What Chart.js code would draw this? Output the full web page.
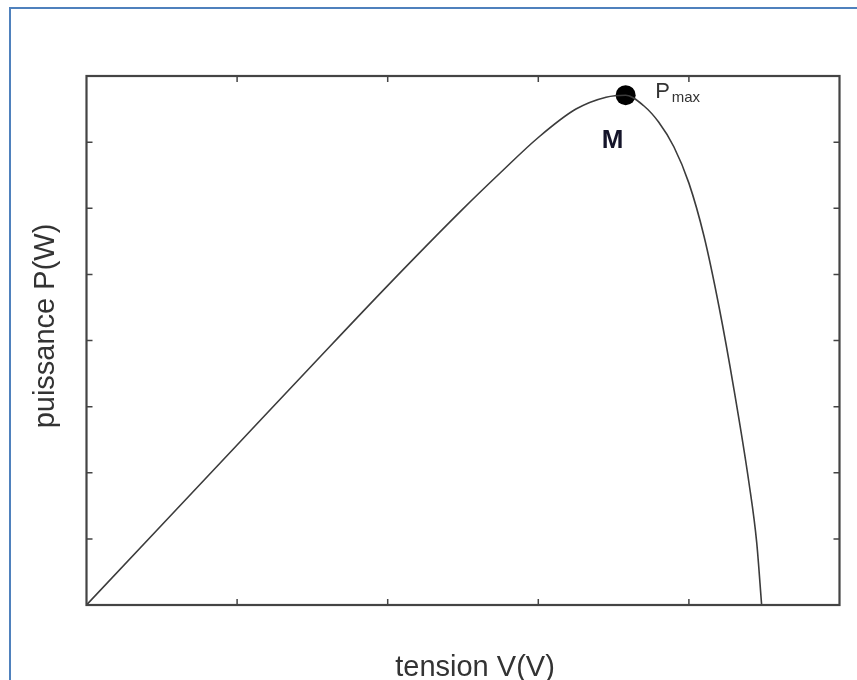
<!DOCTYPE html>
<html>
<head>
<meta charset="utf-8">
<script src="https://cdn.jsdelivr.net/npm/chart.js@4.4.1/dist/chart.umd.min.js"></script>
<style>
html, body { margin: 0; padding: 0; background: #fff; overflow: hidden; }
#wrap { position: relative; width: 857px; height: 680px; }
#cadre { position: absolute; left: 9px; top: 7px; width: 900px; height: 720px; border: 2px solid #4f81bd; box-sizing: border-box; }
#pvChart { position: absolute; left: 0; top: 0; }
</style>
</head>
<body>
<div id="wrap">
    <div id="cadre"></div>
    <canvas id="pvChart" width="857" height="680"></canvas>
</div>
<script>
// courbe P(V) d'un panneau
var tension   = [0, 0.5, 1.0, 1.5, 2.0, 2.5, 2.75, 3.0, 3.25, 3.45, 3.58, 3.70, 3.80, 3.90, 4.00, 4.10, 4.20, 4.30, 4.40, 4.45, 4.483];
var puissance = [0, 1.21, 2.42, 3.63, 4.83, 5.99, 6.54, 7.07, 7.50, 7.68, 7.71, 7.55, 7.30, 6.93, 6.38, 5.58, 4.51, 3.25, 1.83, 0.95, 0];

var pointMax = { x: 3.58, y: 7.71 };

var xTicks = [1, 2, 3, 4];
var yTicks = [1, 2, 3, 4, 5, 6, 7];

var titreX = "tension V(V)";
var titreY = "puissance P(W)";
var police = "'Liberation Sans', Arial, sans-serif";

var courbe = [];
tension.forEach(function(v, i) {
    courbe.push({ x: v, y: puissance[i] });
});

// cadre du graphique + graduations vers l'interieur
var cadrePlugin = {
    id: "cadre",
    afterDatasetsDraw: function(chart) {
        var ctx = chart.ctx;
        var a = chart.chartArea;
        var sx = chart.scales.x, sy = chart.scales.y;
        var L = 6;
        ctx.save();
        ctx.strokeStyle = "#444";
        ctx.lineWidth = 1.5;
        ctx.beginPath();
        xTicks.forEach(function(t) {
            var px = sx.getPixelForValue(t);
            ctx.moveTo(px, a.bottom); ctx.lineTo(px, a.bottom - L);
            ctx.moveTo(px, a.top); ctx.lineTo(px, a.top + L);
        });
        yTicks.forEach(function(t) {
            var py = sy.getPixelForValue(t);
            ctx.moveTo(a.left, py); ctx.lineTo(a.left + L, py);
            ctx.moveTo(a.right, py); ctx.lineTo(a.right - L, py);
        });
        ctx.stroke();
        ctx.lineWidth = 2.2;
        ctx.strokeRect(a.left, a.top, a.right - a.left, a.bottom - a.top);
        ctx.restore();
    },
    afterDraw: function(chart) {
        var ctx = chart.ctx;
        var a = chart.chartArea;
        var px = chart.scales.x.getPixelForValue(pointMax.x);
        var py = chart.scales.y.getPixelForValue(pointMax.y);
        ctx.save();
        ctx.fillStyle = "#333";
        ctx.textBaseline = "middle";
        ctx.textAlign = "center";
        ctx.font = "29px " + police;
        ctx.fillText(titreX, (a.left + a.right) / 2 + 12, a.bottom + 63);
        ctx.save();
        ctx.translate(a.left - 40.5, (a.top + a.bottom) / 2 - 14.5);
        ctx.rotate(-Math.PI / 2);
        ctx.fillText(titreY, 0, 0);
        ctx.restore();

        // M
        ctx.fillStyle = "#15152a";
        ctx.font = "bold 26px " + police;
        ctx.fillText("M", px - 13, py + 46);

        // Pmax
        ctx.fillStyle = "#333";
        ctx.textAlign = "left";
        ctx.textBaseline = "alphabetic";
        ctx.font = "22px " + police;
        ctx.fillText("P", px + 29.5, py + 3);
        ctx.font = "15px " + police;
        ctx.fillText("max", px + 46, py + 7);
        ctx.restore();
    }
};

var pvChart = new Chart(document.getElementById("pvChart"), {
    type: "line",
    data: {
        datasets: [
            {
                label: "P(V)",
                data: courbe,
                borderColor: "#3c3c3c",
                borderWidth: 1.6,
                pointRadius: 0,
                fill: false,
                cubicInterpolationMode: "monotone"
            },
            {
                label: "Pmax",
                data: [pointMax],
                showLine: false,
                pointRadius: 10,
                pointBackgroundColor: "#000",
                pointBorderWidth: 0
            }
        ]
    },
    options: {
        responsive: false,
        animation: false,
        devicePixelRatio: 1,
        layout: {
            padding: { left: 86.5, right: 17.5, top: 76, bottom: 75 }
        },
        plugins: {
            legend: { display: false },
            tooltip: { enabled: false }
        },
        scales: {
            x: { type: "linear", min: 0, max: 5, display: false },
            y: { type: "linear", min: 0, max: 8, display: false }
        }
    },
    plugins: [cadrePlugin]
});
</script>
</body>
</html>
